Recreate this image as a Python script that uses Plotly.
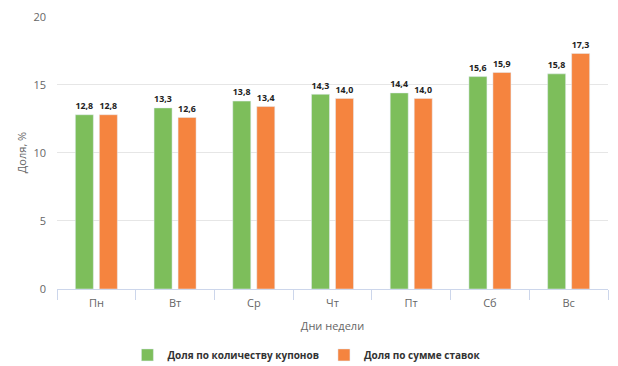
import plotly.graph_objects as go

days = ["Пн", "Вт", "Ср", "Чт", "Пт", "Сб", "Вс"]
coupons = [12.8, 13.3, 13.8, 14.3, 14.4, 15.6, 15.8]
stakes = [12.8, 12.6, 13.4, 14.0, 14.0, 15.9, 17.3]
name_coupons = "Доля по количеству купонов"
name_stakes = "Доля по сумме ставок"

fig = go.Figure()
fig.add_trace(go.Bar(x=days, y=coupons, name=name_coupons, marker_color="#7dbe5b",
                     texttemplate="%{y:.1f}", textposition="outside",
                     textfont=dict(size=10, color="#222", family="Open Sans", weight="bold"),
                     cliponaxis=False))
fig.add_trace(go.Bar(x=days, y=stakes, name=name_stakes, marker_color="#f5843f",
                     texttemplate="%{y:.1f}", textposition="outside",
                     textfont=dict(size=10, color="#222", family="Open Sans", weight="bold"),
                     cliponaxis=False))

fig.update_layout(
    width=610, height=358,
    margin=dict(l=49, r=10, t=8, b=77, autoexpand=False),
    paper_bgcolor="white", plot_bgcolor="white",
    font=dict(family="Open Sans", size=11, color="#666"),
    separators=", ",
    barmode="group", bargap=0.39, bargroupgap=0.25,
    showlegend=True,
    legend=dict(orientation="h", x=0.49, xanchor="center", xref="container",
                y=0.031, yanchor="middle", yref="container",
                font=dict(size=10, color="#333", weight="bold")),
    xaxis=dict(title=dict(text="Дни недели", font=dict(size=11, color="#666"), standoff=13),
               automargin=False,
               showline=True, linecolor="#ccd6eb", ticks="outside", tickson="boundaries",
               ticklen=10, tickcolor="#ccd6eb", ticklabelstandoff=4,
               tickfont=dict(size=11, color="#666")),
    yaxis=dict(title=dict(text="Доля, %", font=dict(size=11, color="#666"), standoff=4),
               automargin=False,
               range=[0, 20.05], tickvals=[0, 5, 10, 15, 20], gridcolor="#e6e6e6", zeroline=False,
               ticklabelstandoff=10,
               tickfont=dict(size=11, color="#666")),
)

fig.write_html("out.html")
